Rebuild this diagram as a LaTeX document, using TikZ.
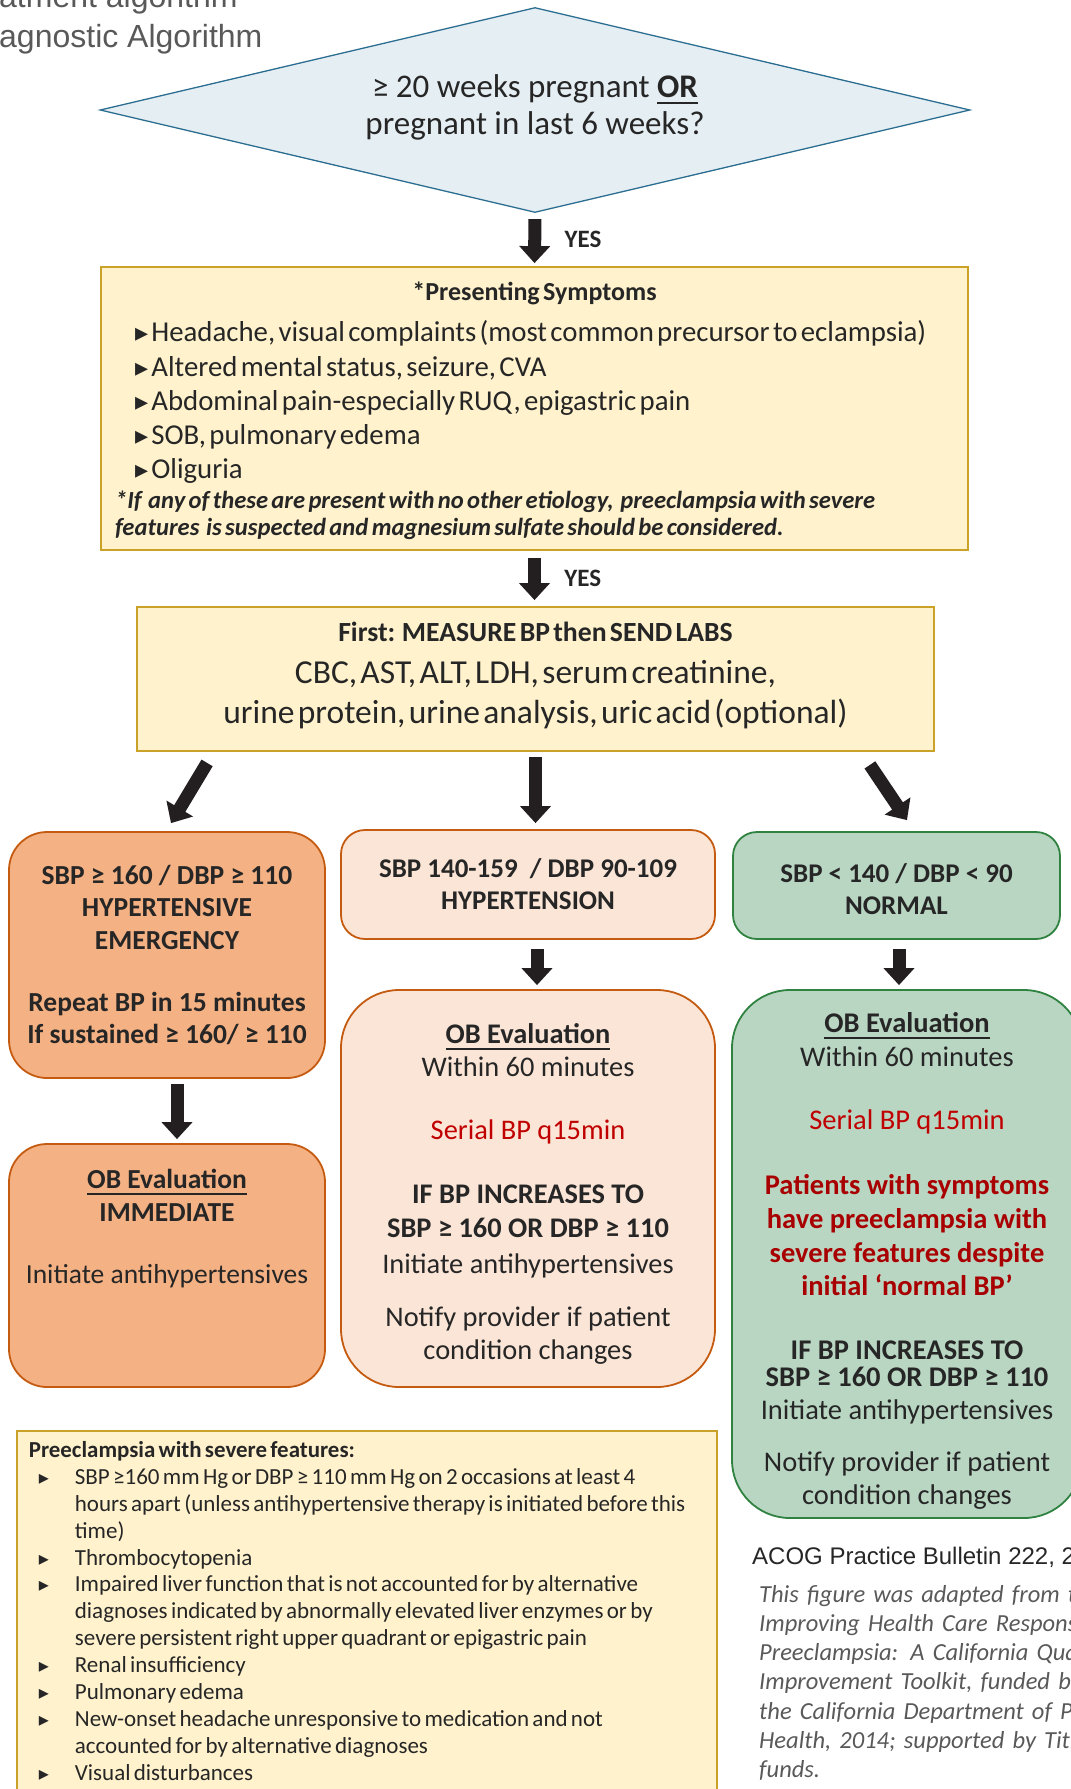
\documentclass[tikz,border=0pt]{standalone}
\usepackage{fontspec}
\setmainfont{Carlito}
\newfontfamily\headfont{Liberation Sans}
\newfontfamily\symfont{DejaVu Sans}
\usepackage{xcolor}
\usetikzlibrary{shapes.geometric, arrows.meta, positioning, calc}

\definecolor{diafill}{HTML}{E5EEF3}
\definecolor{diadraw}{HTML}{2C6E92}
\definecolor{labfill}{HTML}{FFF2CC}
\definecolor{labdraw}{HTML}{C9A227}
\definecolor{emfill}{HTML}{F4B183}
\definecolor{emdraw}{HTML}{C55A11}
\definecolor{htfill}{HTML}{FBE5D6}
\definecolor{nofill}{HTML}{B9D6C3}
\definecolor{nodraw}{HTML}{2F8240}
\definecolor{alert}{HTML}{C00000}
\definecolor{alertdk}{HTML}{A80000}
\definecolor{ink}{HTML}{262626}
\definecolor{grey}{HTML}{595959}
\definecolor{arrowink}{HTML}{231F20}

\newcommand{\fsz}[2]{\fontsize{#1}{#2}\selectfont}
\newcommand{\trib}[1]{{\symfont\fontsize{#1}{#1}\selectfont ▸}}
\newcommand{\undl}[1]{\setbox0\hbox{#1}\rlap{\rule[-6pt]{\wd0}{1.8pt}}\box0}
\newcommand{\sevitem}[1]{\par\hangindent=46pt\hangafter=1\noindent\hspace*{10pt}\makebox[36pt][l]{\trib{20}}#1}

\begin{document}
\begin{tikzpicture}[x=1pt, y=-1pt,
    box/.style={draw, line width=1.8pt, text=ink, inner sep=0pt},
    yellowbox/.style={box, draw=labdraw, fill=labfill},
    orangebox/.style={box, draw=emdraw, fill=emfill, rounded corners=38pt, align=center},
    peachbox/.style={box, draw=emdraw, fill=htfill, align=center},
    greenbox/.style={box, draw=nodraw, fill=nofill, align=center},
    bigarrow/.style={draw=arrowink, line width=13pt, -{Triangle[width=30pt,length=17pt]}},
    yes/.style={font=\fsz{25}{25}\bfseries, text=ink, anchor=west, xshift=20pt}
  ]
  \useasboundingbox (0,0) rectangle (1071,1789);
  \clip (0,0) rectangle (1071,1789);

  % heading, cut off by the screenshot
  \node[anchor=base west, inner sep=0pt, font=\headfont\fsz{32}{32}, text=grey] (head1) at (-1,7) {atment algorithm};
  \node[anchor=base west, inner sep=0pt, font=\headfont\fsz{32}{32}, text=grey] (head2) at (-1,47) {agnostic Algorithm};

  % question
  \node[diamond, draw=diadraw, fill=diafill, line width=1.3pt, minimum width=870pt, minimum height=205pt,
        inner sep=0pt, aspect=4.2, align=center, text=ink, font=\fsz{33}{37}] (preg) at (535,110)
        {≥ 20 weeks pregnant \undl{\textbf{OR}}\\pregnant in last 6 weeks?\rule[-10pt]{0pt}{0pt}};

  % symptoms
  \node[yellowbox, minimum width=867pt, minimum height=283pt, text width=839pt] (symp) at (534.5,408.5) {
    {\fsz{26}{26}\bfseries\centering\rule{0pt}{23.5pt}*Presenting Symptoms\par}
    \vspace{6.7pt}
    {\fsz{28.8}{34.3}\leftskip=20pt
    \trib{26}\ Headache, visual complaints (most common precursor to eclampsia)\\
    \trib{26}\ Altered mental status, seizure, CVA\\
    \trib{26}\ Abdominal pain-especially RUQ, epigastric pain\\
    \trib{26}\ SOB, pulmonary edema\\
    \trib{26}\ Oliguria\par}
    \vspace{2pt}
    {\fsz{24.6}{27.3}\bfseries\itshape *If\ \ any of these are present with no other etiology,\ \ preeclampsia with severe\\
    features\ \ is suspected and magnesium sulfate should be considered.\par}
  };

  % labs
  \node[yellowbox, minimum width=797pt, minimum height=144pt, text width=790pt] (labs) at (535.5,679) {
    {\fsz{27.7}{28}\bfseries\centering First:\ \ MEASURE BP then SEND LABS\par}
    \vspace{2.5pt}
    {\fsz{33.5}{39.5}\centering CBC, AST, ALT, LDH, serum creatinine,\\
    urine protein, urine analysis, uric acid (optional)\rule[-12pt]{0pt}{0pt}\par}
  };

  % blood pressure ranges
  \node[orangebox, minimum width=316pt, minimum height=246pt, font=\fsz{27.5}{32.5}\bfseries] (emerg) at (167,955)
    {SBP ≥ 160 / DBP ≥ 110\\HYPERTENSIVE\\EMERGENCY\\[29.5pt]Repeat BP in 15 minutes\\If sustained ≥ 160/ ≥ 110};
  \node[peachbox, rounded corners=24pt, minimum width=374pt, minimum height=109pt, font=\fsz{27}{32}\bfseries] (hyper) at (528,884.5)
    {SBP 140-159\ \ / DBP 90-109\\HYPERTENSION};
  \node[greenbox, rounded corners=24pt, minimum width=327pt, minimum height=107pt, font=\fsz{27}{32}\bfseries] (normal) at (896.5,885.5)
    {\rule{0pt}{27pt}SBP < 140\ / DBP < 90\\NORMAL};

  % OB evaluation
  \node[orangebox, minimum width=316pt, minimum height=243pt, font=\fsz{27.5}{33}] (obemerg) at (167,1265.5)
    {\undl{\textbf{OB Evaluation}}\\\textbf{IMMEDIATE}\\[29pt]Initiate antihypertensives\\[45pt]\mbox{}};
  \node[peachbox, rounded corners=58pt, minimum width=374pt, minimum height=397pt, font=\fsz{28.4}{33}] (obhyper) at (528,1188.5)
    {\rule{0pt}{31pt}\undl{\textbf{OB Evaluation}}\\Within 60 minutes\\[30pt]
     \textcolor{alert}{Serial BP q15min}\\[31pt]
     \textbf{IF BP INCREASES TO}\\[1pt]\textbf{SBP ≥ 160 OR DBP ≥ 110}\\[3pt]
     Initiate antihypertensives\\[20pt]
     Notify provider if patient\\condition changes};
  \node[greenbox, rounded corners=58pt, minimum width=350pt, minimum height=528pt, font=\fsz{28.5}{33}] (obnorm) at (907,1254)
    {\rule{0pt}{34pt}\undl{\textbf{OB Evaluation}}\\[1pt]Within 60 minutes\\[30pt]
     \textcolor{alert}{Serial BP q15min}\\[32pt]
     \textcolor{alertdk}{\textbf{Patients with symptoms}}\\[1pt]
     \textcolor{alertdk}{\textbf{have preeclampsia with}}\\[1pt]
     \textcolor{alertdk}{\textbf{severe features despite}}\\
     \textcolor{alertdk}{\textbf{initial ‘normal BP’}}\\[31pt]
     \textbf{IF BP INCREASES TO}\\[-6pt]\textbf{SBP ≥ 160 OR DBP ≥ 110}\\
     Initiate antihypertensives\\[19pt]
     Notify provider if patient\\condition changes};

  % definition box
  \node[yellowbox, anchor=north west, text width=676pt, inner xsep=12pt, inner ysep=10.5pt] (severe) at (16,1430) {
    \fsz{23}{26.9}\raggedright
    {\fsz{22.9}{26.9}\bfseries Preeclampsia with severe features:\par}
    \sevitem{SBP ≥160 mm Hg or DBP ≥ 110 mm Hg on 2 occasions at least 4\newline
      hours apart (unless antihypertensive therapy is initiated before this\newline time)}
    \sevitem{Thrombocytopenia}
    \sevitem{Impaired liver function that is not accounted for by alternative\newline
      diagnoses indicated by abnormally elevated liver enzymes or by\newline
      severe persistent right upper quadrant or epigastric pain}
    \sevitem{Renal insufficiency}
    \sevitem{Pulmonary edema}
    \sevitem{New-onset headache unresponsive to medication and not\newline
      accounted for by alternative diagnoses}
    \sevitem{Visual disturbances}\par
  };

  % source
  \node[anchor=base west, inner sep=0pt, font=\headfont\fsz{24}{24}, text=black!85] (acog) at (752,1564)
    {ACOG Practice Bulletin 222, 2020};
  \node[anchor=north west, inner sep=0pt, text width=420pt, font=\fsz{24.5}{29.2}\itshape, text=grey] (credit) at (759,1585)
    {This figure was adapted from the\\Improving Health Care Response to\\Preeclampsia: A California Quality\\
     Improvement Toolkit, funded by\\the California Department of Public\\Health, 2014; supported by Title V\\funds.};

  % arrows
  \draw[bigarrow, shorten <=6pt, shorten >=3pt] (preg.south) -- node[yes] {YES} (symp.north);
  \draw[bigarrow, shorten <=7pt, shorten >=6pt] (symp.south) -- node[yes] {YES} (symp.south |- labs.north);
  \draw[bigarrow] ([shift={(71,11)}]labs.south west) -- ([shift={(4,-8)}]emerg.north);
  \draw[bigarrow, shorten <=5pt, shorten >=6pt] (labs.south) -- (labs.south |- hyper.north);
  \draw[bigarrow] ([shift={(-65,13)}]labs.south east) -- ([shift={(10.5,-11)}]normal.north);
  \draw[bigarrow] ([shift={(10,5)}]emerg.south) -- ([shift={(10,-4)}]obemerg.north);
  \draw[bigarrow] ([shift={(9,9)}]hyper.south) -- ([shift={(9,-4)}]obhyper.north);
  \draw[bigarrow] ([shift={(2.5,9)}]normal.south) -- ([shift={(2.5,-4)}]normal.south |- obnorm.north);
\end{tikzpicture}
\end{document}
